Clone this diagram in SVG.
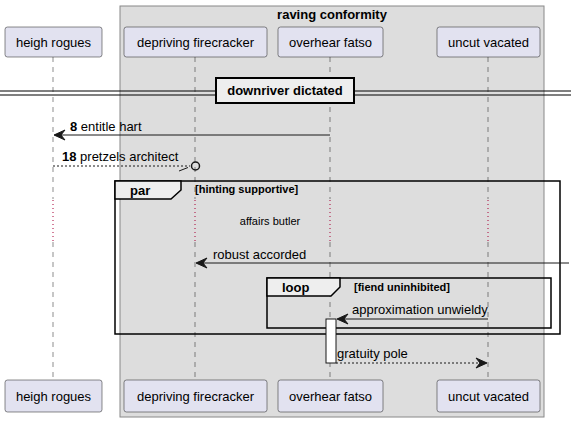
<svg xmlns="http://www.w3.org/2000/svg" width="576" height="422" viewBox="0 0 576 422">
<style>
text{font-family:"Liberation Sans",Arial,sans-serif;fill:#000}
.pn{font-size:13px}
.b{font-weight:bold}
.lbl{font-size:13px}
.part{fill:#E2E2F0;stroke:#181818;stroke-width:0.5}
.life{stroke:#181818;stroke-width:0.5;stroke-dasharray:5,5;fill:none}
.dly{stroke:#A80036;stroke-width:1;stroke-dasharray:1,3;fill:none}
.msg{stroke:#181818;stroke-width:1;fill:none}
.dash{stroke-dasharray:2,2}
.ah{fill:#181818;stroke:#181818;stroke-width:1}
.frame{fill:none;stroke:#000;stroke-width:1.5}
.tab{fill:#EEEEEE;stroke:#000;stroke-width:1.5}
</style>
<g id="group-raving-conformity">
<rect x="120" y="6" width="424" height="411" fill="#DDDDDD" stroke="#888888" stroke-width="1"/>
<text x="332" y="19" class="pn b" text-anchor="middle">raving conformity</text>
</g>
<g id="lifelines">
<path class="life" d="M53,57 V199 M53,242 V380"/>
<path class="life" d="M195,57 V199 M195,242 V380"/>
<path class="life" d="M330,57 V199 M330,242 V380"/>
<path class="life" d="M488,57 V199 M488,242 V380"/>
</g>
<g id="p-heigh-rogues">
<rect class="part" x="5" y="27" width="97" height="30" rx="2.5"/>
<text class="pn" x="53.5" y="47" text-anchor="middle">heigh rogues</text>
<rect class="part" x="5" y="380" width="97" height="32" rx="2.5"/>
<text class="pn" x="53.5" y="401" text-anchor="middle">heigh rogues</text>
</g>
<g id="p-depriving-firecracker">
<rect class="part" x="124" y="27" width="143" height="30" rx="2.5"/>
<text class="pn" x="195.5" y="47" text-anchor="middle">depriving firecracker</text>
<rect class="part" x="124" y="380" width="143" height="32" rx="2.5"/>
<text class="pn" x="195.5" y="401" text-anchor="middle">depriving firecracker</text>
</g>
<g id="p-overhear-fatso">
<rect class="part" x="278" y="27" width="105" height="30" rx="2.5"/>
<text class="pn" x="330.5" y="47" text-anchor="middle">overhear fatso</text>
<rect class="part" x="278" y="380" width="105" height="32" rx="2.5"/>
<text class="pn" x="330.5" y="401" text-anchor="middle">overhear fatso</text>
</g>
<g id="p-uncut-vacated">
<rect class="part" x="437" y="27" width="103" height="30" rx="2.5"/>
<text class="pn" x="488.5" y="47" text-anchor="middle">uncut vacated</text>
<rect class="part" x="437" y="380" width="103" height="32" rx="2.5"/>
<text class="pn" x="488.5" y="401" text-anchor="middle">uncut vacated</text>
</g>
<g id="divider-downriver-dictated">
<line x1="0" y1="91" x2="571" y2="91" stroke="#000" stroke-width="1"/>
<line x1="0" y1="95" x2="571" y2="95" stroke="#000" stroke-width="1"/>
<rect x="216" y="78" width="138" height="25" fill="#EEEEEE" stroke="#000" stroke-width="2"/>
<text class="pn b" x="285" y="95" text-anchor="middle">downriver dictated</text>
</g>
<g id="frame-par">
<rect class="frame" x="115" y="181" width="445" height="153"/>
<path class="tab" d="M115,181 L181,181 L181,190 L171,199 L115,199 Z"/>
<text class="pn b" x="130" y="195">par</text>
<text class="b" x="195" y="193" font-size="11">[hinting supportive]</text>
</g>
<g id="delay-affairs-butler">
<line class="dly" x1="53" y1="200" x2="53" y2="242"/>
<line class="dly" x1="195" y1="200" x2="195" y2="242"/>
<line class="dly" x1="330" y1="200" x2="330" y2="242"/>
<line class="dly" x1="488" y1="200" x2="488" y2="242"/>
<text x="270" y="225" font-size="11" text-anchor="middle">affairs butler</text>
</g>
<g id="frame-loop">
<rect class="frame" x="267" y="278" width="284" height="50"/>
<path class="tab" d="M267,278 L340,278 L340,287 L331,296 L267,296 Z"/>
<text class="pn b" x="282" y="292">loop</text>
<text class="b" x="354" y="291" font-size="11">[fiend uninhibited]</text>
</g>
<g id="activation-overhear-fatso">
<rect x="326" y="319" width="10" height="44" fill="#FFFFFF" stroke="#181818" stroke-width="1"/>
</g>
<g id="connectors">
<line class="msg" x1="330" y1="135" x2="55" y2="135"/>
<polygon class="ah" points="54,135 65,130 61,135 65,140"/>
<line class="msg dash" x1="53" y1="166" x2="190" y2="166"/>
<circle cx="195.5" cy="166" r="4" fill="none" stroke="#181818" stroke-width="1.5"/>
<line class="msg" x1="179" y1="171" x2="188" y2="167.5"/>
<line class="msg" x1="569" y1="263" x2="197" y2="263"/>
<polygon class="ah" points="196,263 207,258 203,263 207,268"/>
<line class="msg" x1="488" y1="319" x2="338" y2="319"/>
<polygon class="ah" points="337,319 348,314 344,319 348,324"/>
<line class="msg dash" x1="336" y1="363" x2="486" y2="363"/>
<polygon class="ah" points="487,363 476,358 480,363 476,368"/>
</g>
<g id="labels">
<text class="lbl" x="70" y="131"><tspan class="b">8</tspan> entitle hart</text>
<text class="lbl" x="62" y="161"><tspan class="b">18</tspan> pretzels architect</text>
<text class="lbl" x="213" y="259">robust accorded</text>
<text class="lbl" x="352" y="314">approximation unwieldy</text>
<text class="lbl" x="337" y="358">gratuity pole</text>
</g>
</svg>
